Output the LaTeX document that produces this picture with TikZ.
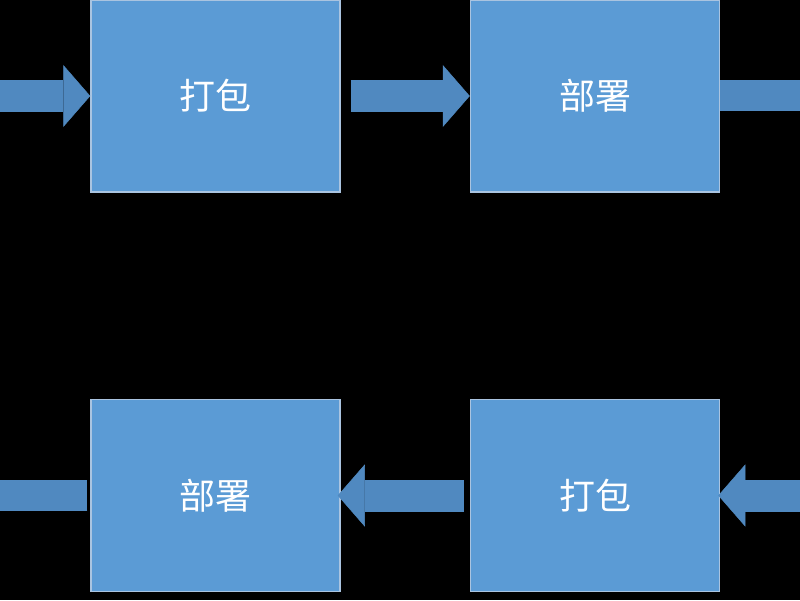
\documentclass[tikz,border=0pt]{standalone}
\usepackage{fontspec}
\newfontfamily\cjk{Noto Sans CJK SC}
\usetikzlibrary{arrows.meta}
\usetikzlibrary{positioning}
\definecolor{boxblue}{RGB}{91,155,213}
\definecolor{boxedge}{RGB}{170,196,224}
\definecolor{flowblue}{RGB}{80,137,192}
\tikzset{
  step box/.style={rectangle, fill=boxblue, draw=boxedge, line width=1.5pt,
    minimum width=249pt, minimum height=192pt, inner sep=0pt,
    text=white, font=\cjk\fontsize{36}{40}\selectfont},
  flow/.style={draw=flowblue, line width=32pt,
    -{Triangle[length=27pt, width=62pt, line width=0.5pt]}},
  flow tail/.style={draw=flowblue, line width=31pt}
}
\begin{document}
\begin{tikzpicture}[x=1pt, y=1pt]
    \useasboundingbox (0,0) rectangle (800,600);
    \fill[black] (0,0) rectangle (800,600);

    \node[step box] (pack1) at (215.5,504) {打包};
    \node[step box, right=129pt of pack1] (deploy1) {部署};
    \node[step box, below=206pt of deploy1] (pack2) {打包};
    \node[step box, left=129pt of pack2] (deploy2) {部署};

    % page edges, for the arrows that run off the picture
    \coordinate (edgeL) at (0,0);
    \coordinate (edgeR) at (800,0);

    \draw[flow] (pack1.west -| edgeL) -- (pack1.west);
    \draw[flow] ([xshift=10pt]pack1.east) -- (deploy1.west);
    \draw[flow tail] (deploy1.east) -- (deploy1.east -| edgeR);
    \draw[flow] (pack2.east -| edgeR) -- ([xshift=-2pt]pack2.east);
    \draw[flow] ([xshift=-6pt]pack2.west) -- ([xshift=-3pt]deploy2.east);
    \draw[flow tail] ([xshift=-3pt]deploy2.west) -- (deploy2.west -| edgeL);
\end{tikzpicture}
\end{document}
